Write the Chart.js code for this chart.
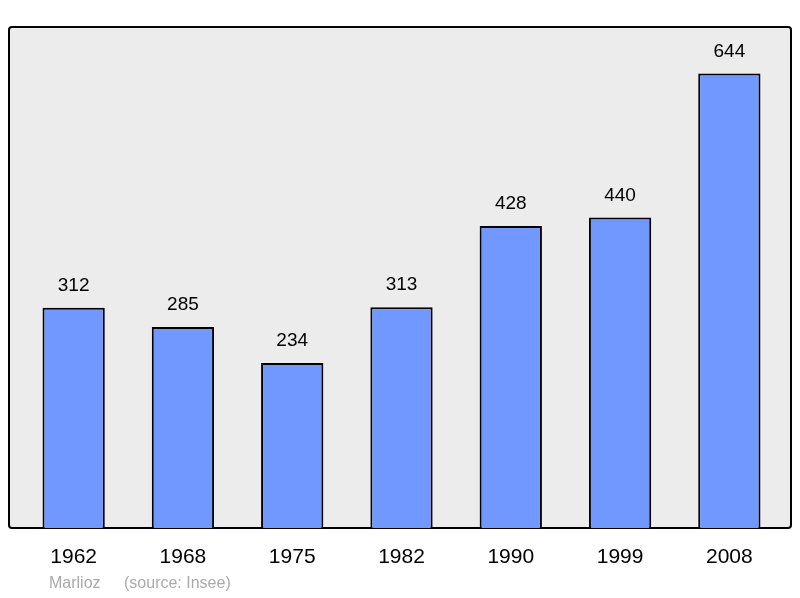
<!DOCTYPE html>
<html><head><meta charset="utf-8">
<script src="https://cdn.jsdelivr.net/npm/chart.js@4"></script>
<style>html,body{margin:0;padding:0;background:#fff}#w{width:800px;height:598px}</style>
</head><body><div id="w"><canvas id="c"></canvas></div>
<script>
const years = ["1962","1968","1975","1982","1990","1999","2008"];
const population = [312,285,234,313,428,440,644];
const author = "Marlioz";
const source = "(source: Insee)";

const frame = {
  id:'frame',
  beforeDraw(ch){
    const c=ch.ctx;c.save();
    c.fillStyle='#ececec';c.strokeStyle='#000';c.lineWidth=2;
    c.beginPath();c.roundRect(9,27,782,501,3);c.fill();c.stroke();c.restore();
  },
  afterDatasetsDraw(ch){
    const c=ch.ctx;c.save();
    c.font='19px "Liberation Sans", Arial, sans-serif';c.fillStyle='#000';
    c.textAlign='center';c.textBaseline='middle';
    ch.getDatasetMeta(0).data.forEach((b,i)=>c.fillText(String(population[i]),b.x,b.y-22));
    c.font='16px "Liberation Sans", Arial, sans-serif';c.fillStyle='#aaa';c.textAlign='left';
    c.fillText(author,49,584);
    c.fillText(source,124,584);
    c.restore();
  }
};

new Chart(document.getElementById('c'),{
  type:'bar',
  data:{labels:years,datasets:[{data:population,backgroundColor:'#7098ff',borderColor:'#000',borderWidth:2,barPercentage:0.57,categoryPercentage:1}]},
  options:{
    responsive:true,maintainAspectRatio:false,animation:false,
    layout:{padding:{top:27,left:19,right:16,bottom:0}},
    plugins:{legend:{display:false},tooltip:{enabled:false}},
    scales:{
      y:{display:false,min:0,max:710},
      x:{grid:{display:false},border:{display:false},
         ticks:{color:'#000',padding:9,font:{size:21,family:'"Liberation Sans", Arial, sans-serif'}},
         afterFit(s){s.height=70;}}
    }
  },
  plugins:[frame]
});
</script></body></html>
